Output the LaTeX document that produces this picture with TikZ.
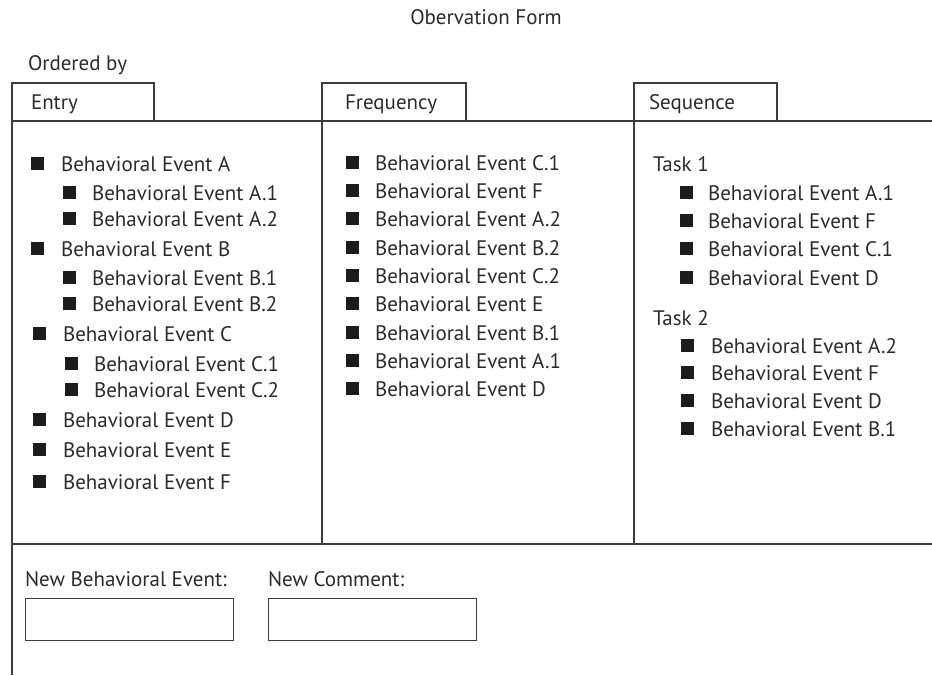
\documentclass[tikz,border=0pt]{standalone}
\usepackage{fontspec}
\setmainfont{PT Sans}
\newcommand{\itemsize}{\fontsize{21}{24}\selectfont}
\definecolor{linec}{HTML}{3C3C3C}
\definecolor{txtc}{HTML}{2B2B2B}
\definecolor{bulc}{HTML}{1C1C1C}
\tikzset{
  frame/.style={draw=linec, line width=1.4pt},
  bul/.style={fill=bulc, draw=none, minimum size=13pt, inner sep=0pt, outer sep=0pt},
  txt/.style={anchor=base west, inner sep=0pt, outer sep=0pt, text=txtc, font=\itemsize},
  inbox/.style={draw=linec, line width=1.4pt, minimum width=208pt, minimum height=42pt, inner sep=0pt, anchor=north west},
}
\begin{document}
\begin{tikzpicture}[x=1pt,y=-1pt]
\useasboundingbox (0,0) rectangle (932,675);
% title and heading
\node[txt, anchor=base] (title) at (486,24) {Obervation Form};
\node[txt] (ordered) at (28,70) {Ordered by};
% tabs
\draw[frame] (12,121) -- (12,83) -- (154,83) -- (154,121);
\draw[frame] (322,121) -- (322,83) -- (466,83) -- (466,121);
\draw[frame] (634,121) -- (634,83) -- (777,83) -- (777,121);
\node[txt] (tabentry) at (31,109.5) {Entry};
\node[txt] (tabfreq) at (345,109.5) {Frequency};
\node[txt] (tabseq) at (649,109.5) {Sequence};
% frame
\draw[frame] (12,675) -- (12,121) -- (932,121);
\draw[frame] (322,121) -- (322,544);
\draw[frame] (634,121) -- (634,544);
\draw[frame] (12,544) -- (932,544);
% entry column
\foreach \bx/\by/\tx/\lab [count=\i] in {
  37/163/61/A, 69/192/92/A.1, 69/218/92/A.2,
  37/248/61/B, 69/277/92/B.1, 69/303/92/B.2,
  39/333/63/C, 71/363/94/C.1, 71/389/94/C.2,
  39/419/63/D, 39/449/63/E, 39/481/63/F}{
  \node[bul] (eb\i) at (\bx,\by) {};
  \node[txt] (et\i) at (\tx,\by+8) {Behavioral Event \lab};
}
% frequency column
\foreach \by/\lab [count=\i] in {
  162/C.1, 190/F, 218/A.2, 247/B.2, 275/C.2, 303/E, 332/B.1, 360/A.1, 388/D}{
  \node[bul] (fb\i) at (352,\by) {};
  \node[txt] (ft\i) at (375,\by+8) {Behavioral Event \lab};
}
% sequence column
\node[txt] (task1) at (653,171) {Task 1};
\foreach \by/\lab [count=\i] in {192/A.1, 220/F, 248/C.1, 277/D}{
  \node[bul] (sb\i) at (686,\by) {};
  \node[txt] (st\i) at (708,\by+8) {Behavioral Event \lab};
}
\node[txt] (task2) at (653,325) {Task 2};
\foreach \by/\lab [count=\i] in {345/A.2, 372/F, 400/D, 428/B.1}{
  \node[bul] (ub\i) at (687,\by) {};
  \node[txt] (ut\i) at (711,\by+8) {Behavioral Event \lab};
}
% bottom inputs
\node[txt] (newev) at (25,586) {New Behavioral Event:};
\node[txt] (newcm) at (268,586) {New Comment:};
\node[inbox] (boxev) at (25,598) {};
\node[inbox] (boxcm) at (268,598) {};
\end{tikzpicture}
\end{document}
